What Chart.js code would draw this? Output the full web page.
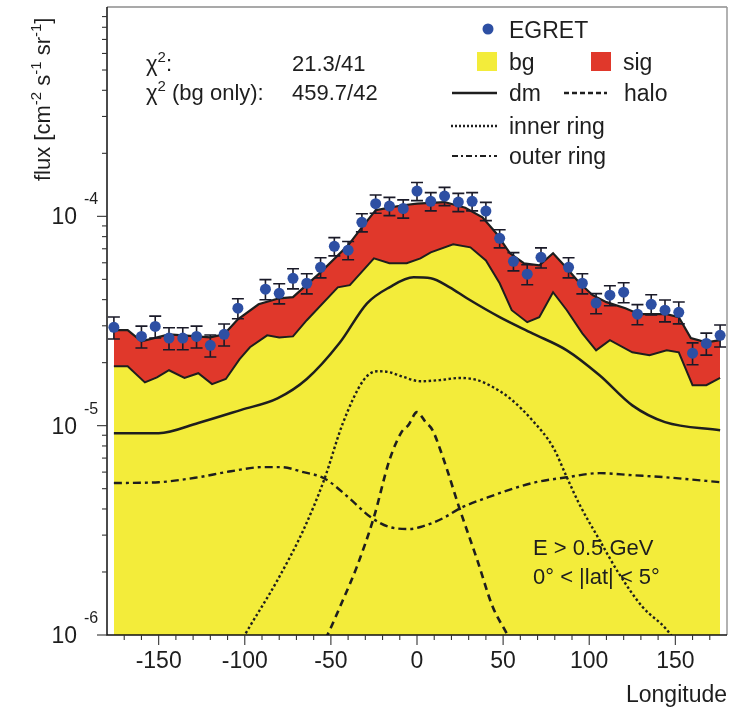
<!DOCTYPE html>
<html>
<head>
<meta charset="utf-8">
<script src="https://cdn.jsdelivr.net/npm/chart.js@4.4.0/dist/chart.umd.min.js"></script>
<style>
  html, body { margin: 0; padding: 0; background: #fff; }
  #wrap { width: 737px; height: 713px; position: relative; }
</style>
</head>
<body>
<div id="wrap"><canvas id="chart"></canvas></div>
<script>
// EGRET data points (longitude in deg, flux) and relative errors
const egretLon = [-176, -160, -152, -144, -136, -128, -120, -112, -104, -88, -80, -72, -64, -56, -48, -40, -32, -24, -16, -8, 0,
  8, 16, 24, 32, 40, 48, 56, 64, 72, 88, 96, 104, 112, 120, 128, 136, 144, 152, 160, 168, 176];
const egretFlux = [2.95e-5, 2.67e-5, 2.98e-5, 2.62e-5, 2.62e-5, 2.67e-5, 2.42e-5, 2.73e-5, 3.64e-5, 4.49e-5, 4.29e-5, 5.06e-5,
  4.79e-5, 5.71e-5, 7.19e-5, 6.89e-5, 9.36e-5, 1.15e-4, 1.12e-4, 1.09e-4, 1.32e-4,
  1.18e-4, 1.25e-4, 1.17e-4, 1.18e-4, 1.06e-4, 7.85e-5, 6.10e-5, 5.29e-5, 6.37e-5, 5.71e-5, 4.79e-5, 3.85e-5,
  4.20e-5, 4.34e-5, 3.41e-5, 3.80e-5, 3.56e-5, 3.48e-5, 2.22e-5, 2.47e-5, 2.70e-5];
const egretErr = [0.12, 0.12, 0.12, 0.12, 0.12, 0.12, 0.12, 0.12, 0.11, 0.11, 0.11, 0.11, 0.11, 0.11, 0.10, 0.10, 0.10, 0.10, 0.10, 0.10, 0.10,
  0.10, 0.10, 0.10, 0.10, 0.10, 0.10, 0.10, 0.11, 0.11, 0.11, 0.11, 0.11, 0.11, 0.11, 0.11, 0.11, 0.12, 0.12, 0.12, 0.12, 0.12];

// bg + sig (top of red band)
const totLon = [-176, -168, -160, -144, -120, -112, -104, -92, -80, -72, -56, -40, -32, -24, -16, -8, 0, 16, 28, 38, 46, 54,
  62, 71, 79, 87, 94, 102, 110, 121, 129, 145, 152, 159, 168, 176];
const totFlux = [2.86e-5, 2.86e-5, 2.53e-5, 2.73e-5, 2.64e-5, 2.73e-5, 3.22e-5, 3.80e-5, 4.06e-5, 4.11e-5, 5.40e-5, 7.27e-5,
  8.86e-5, 1.07e-4, 1.10e-4, 1.13e-4, 1.15e-4, 1.17e-4, 1.10e-4, 9.89e-5, 8.30e-5, 6.66e-5, 5.97e-5, 5.84e-5, 6.66e-5,
  5.65e-5, 4.84e-5, 4.20e-5, 3.89e-5, 3.64e-5, 3.41e-5, 3.41e-5, 3.30e-5, 2.62e-5, 2.50e-5, 2.56e-5];

// background (top of yellow band)
const bgLon = [-176, -168, -158, -151, -144, -135, -127, -119, -111, -103, -97, -87, -80, -72, -64, -46, -39, -25, -16, -6, 2,
  8, 21, 31, 40, 48, 55, 64, 71, 79, 87, 96, 104, 112, 125, 135, 145, 152, 160, 168, 176];
const bgFlux = [1.92e-5, 1.92e-5, 1.61e-5, 1.70e-5, 1.84e-5, 1.69e-5, 1.78e-5, 1.58e-5, 1.67e-5, 2.08e-5, 2.37e-5, 2.70e-5,
  2.64e-5, 2.67e-5, 3.19e-5, 4.58e-5, 4.69e-5, 6.30e-5, 5.97e-5, 5.97e-5, 6.30e-5, 6.73e-5, 7.35e-5, 7.11e-5, 6.16e-5,
  4.79e-5, 3.56e-5, 3.12e-5, 3.30e-5, 4.34e-5, 3.56e-5, 2.76e-5, 2.29e-5, 2.56e-5, 2.24e-5, 2.17e-5, 2.29e-5, 2.24e-5,
  1.56e-5, 1.56e-5, 1.69e-5];

// dark matter components
const dmLon = [-176, -150, -127, -102, -81, -64, -45, -29, -16, -2, 8, 19, 29, 48, 67, 87, 106, 125, 144, 176];
const dmFlux = [9.21e-6, 9.21e-6, 1.03e-5, 1.19e-5, 1.35e-5, 1.67e-5, 2.48e-5, 3.84e-5, 4.58e-5, 5.11e-5, 5.06e-5, 4.58e-5,
  4.06e-5, 3.30e-5, 2.76e-5, 2.29e-5, 1.74e-5, 1.25e-5, 1.04e-5, 9.52e-6];

const haloLon = [-66, -52, -43, -35, -25, -16, -9, -5, 0, 5, 9, 15, 25, 35, 44, 52, 66];
const haloFlux = [6e-7, 1.0e-6, 1.47e-6, 2.11e-6, 3.66e-6, 6.84e-6, 9.31e-6, 1.006e-5, 1.16e-5, 1.04e-5, 9.52e-6, 7.08e-6,
  3.95e-6, 2.28e-6, 1.36e-6, 1.02e-6, 6e-7];

const innerLon = [-115, -100, -81, -66, -54, -43, -31, -23, -16, -8, 2, 13, 25, 35, 44, 54, 67, 79, 87, 94, 106, 117, 131, 145, 160];
const innerFlux = [6e-7, 1.0e-6, 1.83e-6, 3.17e-6, 5.49e-6, 1.03e-5, 1.65e-5, 1.82e-5, 1.80e-5, 1.71e-5, 1.63e-5, 1.65e-5,
  1.69e-5, 1.65e-5, 1.53e-5, 1.35e-5, 1.06e-5, 7.89e-6, 5.67e-6, 4.26e-6, 2.84e-6, 1.98e-6, 1.36e-6, 1.06e-6, 7e-7];

const outerLon = [-176, -150, -127, -108, -89, -79, -66, -54, -40, -27, -16, -4, 2, 15, 25, 40, 67, 87, 106, 125, 144, 176];
const outerFlux = [5.32e-6, 5.37e-6, 5.67e-6, 6.06e-6, 6.34e-6, 6.34e-6, 6.0e-6, 5.61e-6, 4.56e-6, 3.66e-6, 3.28e-6, 3.21e-6,
  3.28e-6, 3.61e-6, 4.03e-6, 4.51e-6, 5.32e-6, 5.67e-6, 5.93e-6, 5.80e-6, 5.67e-6, 5.37e-6];

const xTickLabels = [-150, -100, -50, 0, 50, 100, 150];
const yDecades = [-6, -5, -4];

const FONT = '"Liberation Sans", Arial, sans-serif';
const YELLOW = '#f3ec3a';
const RED = '#e0382b';
const BLUE = '#2d4fa3';
const INK = '#1e1e1e';

const pts = (xs, ys) => xs.map((x, i) => ({ x, y: ys[i] }));

// draw text with superscript pieces, returns end x
function richText(ctx, parts, x, y, size) {
  parts.forEach(p => {
    const s = p.sup ? Math.round(size * 0.68) : size;
    ctx.font = `${s}px ${FONT}`;
    ctx.fillText(p.t, x, p.sup ? y - size * 0.42 : y);
    x += ctx.measureText(p.t).width;
  });
  return x;
}

function legendLine(ctx, x1, x2, y, dash, w) {
  ctx.save();
  ctx.strokeStyle = INK;
  ctx.lineWidth = w;
  ctx.setLineDash(dash);
  ctx.beginPath();
  ctx.moveTo(x1, y);
  ctx.lineTo(x2, y);
  ctx.stroke();
  ctx.restore();
}

const decor = {
  id: 'decor',
  beforeDatasetDraw(chart, args) {
    if (args.index !== 0) return;
    const { ctx, scales: { x, y } } = chart;
    ctx.save();
    ctx.strokeStyle = '#1a1a28';
    ctx.lineWidth = 1.6;
    egretLon.forEach((lon, i) => {
      const px = x.getPixelForValue(lon);
      const hi = y.getPixelForValue(egretFlux[i] * (1 + egretErr[i]));
      const lo = y.getPixelForValue(egretFlux[i] * (1 - egretErr[i]));
      ctx.beginPath();
      ctx.moveTo(px, hi); ctx.lineTo(px, lo);
      ctx.moveTo(px - 6, hi); ctx.lineTo(px + 6, hi);
      ctx.moveTo(px - 6, lo); ctx.lineTo(px + 6, lo);
      ctx.stroke();
    });
    ctx.restore();
  },
  afterDraw(chart) {
    const { ctx, chartArea: a, scales: { x, y } } = chart;
    ctx.save();

    // frame
    ctx.lineWidth = 1.2;
    ctx.strokeStyle = '#555';
    ctx.beginPath();
    ctx.moveTo(a.left, a.top); ctx.lineTo(a.right, a.top);
    ctx.stroke();
    ctx.strokeStyle = '#999';
    ctx.lineWidth = 1.5;
    ctx.beginPath();
    ctx.moveTo(a.right, a.top); ctx.lineTo(a.right, a.bottom);
    ctx.stroke();
    ctx.strokeStyle = '#111';
    ctx.lineWidth = 1.5;
    ctx.beginPath();
    ctx.moveTo(a.left, a.top); ctx.lineTo(a.left, a.bottom); ctx.lineTo(a.right, a.bottom);
    ctx.stroke();

    // x ticks
    ctx.lineWidth = 1.1;
    ctx.strokeStyle = '#333';
    for (let v = -170; v <= 170; v += 10) {
      const px = x.getPixelForValue(v);
      const len = v % 50 === 0 ? 10 : 5;
      ctx.beginPath();
      ctx.moveTo(px, a.bottom); ctx.lineTo(px, a.bottom + len);
      ctx.stroke();
    }
    ctx.fillStyle = INK;
    ctx.font = `23px ${FONT}`;
    ctx.textAlign = 'center';
    ctx.textBaseline = 'alphabetic';
    xTickLabels.forEach(v => ctx.fillText(String(v), x.getPixelForValue(v), a.bottom + 33));
    ctx.textAlign = 'right';
    ctx.fillText('Longitude', a.right, 702);

    // y ticks
    for (let d = -6; d < -3; d++) {
      for (let m = 1; m <= 9; m++) {
        const py = y.getPixelForValue(m * Math.pow(10, d));
        const len = m === 1 ? 10 : 5;
        ctx.beginPath();
        ctx.moveTo(a.left, py); ctx.lineTo(a.left - len, py);
        ctx.stroke();
      }
    }
    yDecades.forEach(d => {
      const py = y.getPixelForValue(Math.pow(10, d));
      ctx.textAlign = 'right';
      ctx.font = `23px ${FONT}`;
      ctx.fillText('10', 77, py + 8);
      ctx.textAlign = 'left';
      ctx.font = `16px ${FONT}`;
      ctx.fillText(String(d), 84, py - 12);
    });

    // y title
    ctx.save();
    ctx.translate(50, 181);
    ctx.rotate(-Math.PI / 2);
    ctx.textAlign = 'left';
    richText(ctx, [{ t: 'flux [cm' }, { t: '-2', sup: true }, { t: ' s' }, { t: '-1', sup: true },
      { t: ' sr' }, { t: '-1', sup: true }, { t: ']' }], 0, 0, 22);
    ctx.restore();

    // chi2 annotations
    ctx.textAlign = 'left';
    richText(ctx, [{ t: 'χ' }, { t: '2', sup: true }, { t: ':' }], 146, 71, 22);
    richText(ctx, [{ t: 'χ' }, { t: '2', sup: true }, { t: ' (bg only):' }], 146, 100, 22);
    ctx.font = `22px ${FONT}`;
    ctx.fillText('21.3/41', 292, 71);
    ctx.fillText('459.7/42', 292, 100);

    // energy / latitude annotation
    ctx.font = `22px ${FONT}`;
    ctx.fillText('E > 0.5 GeV', 533, 555);
    ctx.fillText('0° < |lat| < 5°', 533, 584);

    // legend
    ctx.font = `23px ${FONT}`;
    ctx.fillStyle = BLUE;
    ctx.beginPath();
    ctx.arc(488, 29, 5.5, 0, Math.PI * 2);
    ctx.fill();
    ctx.fillStyle = YELLOW;
    ctx.fillRect(477, 52, 20, 19);
    ctx.fillStyle = RED;
    ctx.fillRect(591, 52, 20, 19);
    ctx.fillStyle = INK;
    ctx.fillText('EGRET', 509, 38);
    ctx.fillText('bg', 509, 70);
    ctx.fillText('sig', 623, 70);
    ctx.fillText('dm', 509, 101);
    ctx.fillText('halo', 624, 101);
    ctx.fillText('inner ring', 509, 134);
    ctx.fillText('outer ring', 509, 164);
    legendLine(ctx, 452, 497, 93, [], 2.5);
    legendLine(ctx, 564, 607, 93, [5, 3], 2.5);
    legendLine(ctx, 451, 497, 126, [2, 2], 2.5);
    legendLine(ctx, 452, 497, 156, [6, 3, 2, 3], 2);

    ctx.restore();
  }
};

new Chart(document.getElementById('chart'), {
  type: 'line',
  data: {
    datasets: [
      {
        label: 'EGRET', data: pts(egretLon, egretFlux), showLine: false, order: 0,
        pointRadius: 5.5, pointBackgroundColor: BLUE, pointBorderColor: BLUE, pointBorderWidth: 0
      },
      {
        label: 'dm', data: pts(dmLon, dmFlux), order: 1, borderColor: INK, borderWidth: 2.5,
        pointRadius: 0, cubicInterpolationMode: 'monotone', fill: false
      },
      {
        label: 'halo', data: pts(haloLon, haloFlux), order: 2, borderColor: INK, borderWidth: 2.6,
        borderDash: [7, 5], pointRadius: 0, cubicInterpolationMode: 'monotone', fill: false
      },
      {
        label: 'inner ring', data: pts(innerLon, innerFlux), order: 3, borderColor: INK, borderWidth: 2.4,
        borderDash: [2.5, 2.5], pointRadius: 0, cubicInterpolationMode: 'monotone', fill: false
      },
      {
        label: 'outer ring', data: pts(outerLon, outerFlux), order: 4, borderColor: INK, borderWidth: 2.4,
        borderDash: [8, 4, 3, 4], pointRadius: 0, cubicInterpolationMode: 'monotone', fill: false
      },
      {
        label: 'bg', data: pts(bgLon, bgFlux), order: 9, borderColor: INK, borderWidth: 2,
        backgroundColor: YELLOW, fill: 'start', pointRadius: 0, tension: 0
      },
      {
        label: 'sig', data: pts(totLon, totFlux), order: 10, borderColor: INK, borderWidth: 2.2,
        backgroundColor: RED, fill: 'start', pointRadius: 0, tension: 0
      }
    ]
  },
  options: {
    responsive: true,
    maintainAspectRatio: false,
    animation: false,
    layout: { padding: { top: 7, right: 10, left: 0, bottom: 0 } },
    plugins: { legend: { display: false }, tooltip: { enabled: false } },
    scales: {
      x: {
        type: 'linear', min: -180, max: 180,
        grid: { display: false }, border: { display: false }, ticks: { display: false },
        afterFit: s => { s.height = 78; }
      },
      y: {
        type: 'logarithmic', min: 1e-6, max: 1e-3,
        grid: { display: false }, border: { display: false }, ticks: { display: false },
        afterFit: s => { s.width = 107; }
      }
    }
  },
  plugins: [decor]
});
</script>
</body>
</html>
